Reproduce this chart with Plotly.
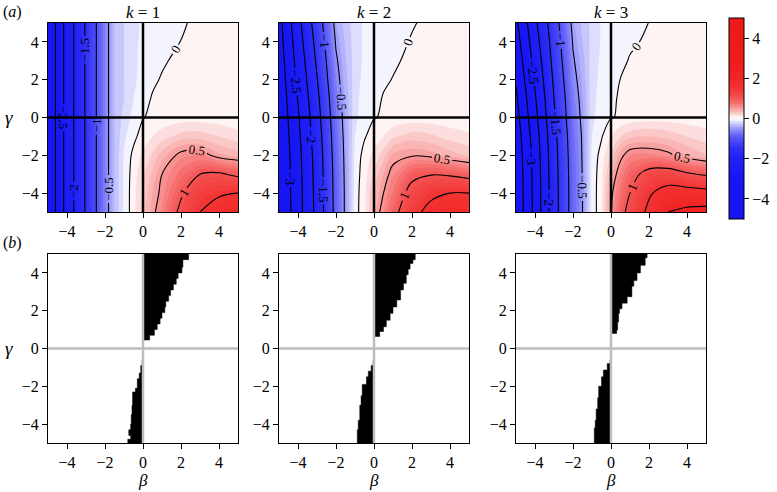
import plotly.graph_objects as go

# ---------------- data ----------------
beta_nodes = [-5, -4, -3, -2, -1.5, -1, -0.5, 0, 0.5, 1, 2, 3, 4, 5]
gamma_nodes = [-5, -4, -3, -2, -1, 0, 1, 2, 3, 4, 5]

# rows: gamma = -5 ... 5 ; columns: beta_nodes
z_k1 = [
    [-3.45, -2.30, -1.45, -0.62, -0.30, -0.08, 0.06, 0.25, 0.45, 0.62, 1.10, 1.50, 1.70, 1.75],
    [-3.45, -2.30, -1.45, -0.62, -0.30, -0.08, 0.06, 0.22, 0.40, 0.55, 0.95, 1.30, 1.45, 1.50],
    [-3.45, -2.30, -1.45, -0.62, -0.30, -0.08, 0.05, 0.18, 0.33, 0.50, 0.75, 1.00, 1.05, 0.92],
    [-3.45, -2.30, -1.45, -0.62, -0.30, -0.09, 0.03, 0.12, 0.22, 0.35, 0.56, 0.60, 0.42, 0.35],
    [-3.45, -2.30, -1.45, -0.62, -0.30, -0.12, -0.03, 0.05, 0.10, 0.15, 0.24, 0.25, 0.20, 0.14],
    [-3.45, -2.30, -1.45, -0.62, -0.30, -0.16, -0.07, -0.005, 0.02, 0.03, 0.05, 0.05, 0.04, 0.03],
    [-3.45, -2.30, -1.45, -0.62, -0.30, -0.20, -0.10, -0.04, 0.01, 0.03, 0.04, 0.04, 0.04, 0.04],
    [-3.45, -2.30, -1.45, -0.62, -0.30, -0.20, -0.12, -0.06, -0.02, 0.01, 0.04, 0.04, 0.04, 0.04],
    [-3.45, -2.30, -1.45, -0.62, -0.30, -0.20, -0.12, -0.07, -0.05, -0.015, 0.03, 0.04, 0.04, 0.04],
    [-3.45, -2.30, -1.45, -0.62, -0.30, -0.20, -0.12, -0.08, -0.06, -0.04, 0.002, 0.03, 0.04, 0.04],
    [-3.45, -2.30, -1.45, -0.62, -0.30, -0.20, -0.12, -0.09, -0.07, -0.05, -0.015, 0.03, 0.04, 0.04],
]

z_k2 = [
    [-3.50, -2.70, -1.85, -0.85, -0.45, -0.05, 0.08, 0.35, 0.60, 0.85, 1.35, 1.65, 1.75, 1.78],
    [-3.49, -2.69, -1.84, -0.84, -0.45, -0.05, 0.07, 0.30, 0.50, 0.72, 1.15, 1.40, 1.50, 1.50],
    [-3.48, -2.67, -1.82, -0.83, -0.44, -0.06, 0.06, 0.22, 0.40, 0.58, 0.90, 0.98, 0.95, 0.85],
    [-3.47, -2.65, -1.79, -0.80, -0.43, -0.07, 0.04, 0.13, 0.25, 0.42, 0.48, 0.45, 0.35, 0.28],
    [-3.44, -2.60, -1.74, -0.77, -0.41, -0.10, -0.01, 0.05, 0.10, 0.18, 0.25, 0.22, 0.16, 0.12],
    [-3.40, -2.55, -1.68, -0.72, -0.39, -0.12, -0.05, -0.005, 0.01, 0.02, 0.04, 0.04, 0.03, 0.03],
    [-3.36, -2.48, -1.61, -0.67, -0.37, -0.13, -0.06, -0.04, 0.01, 0.03, 0.04, 0.04, 0.04, 0.04],
    [-3.31, -2.40, -1.52, -0.60, -0.34, -0.14, -0.07, -0.06, -0.02, 0.005, 0.04, 0.04, 0.04, 0.04],
    [-3.26, -2.32, -1.43, -0.54, -0.31, -0.15, -0.08, -0.07, -0.05, -0.02, 0.03, 0.04, 0.04, 0.04],
    [-3.21, -2.23, -1.34, -0.47, -0.28, -0.15, -0.08, -0.08, -0.06, -0.04, 0.01, 0.03, 0.04, 0.04],
    [-3.16, -2.15, -1.25, -0.40, -0.25, -0.15, -0.08, -0.09, -0.07, -0.05, -0.01, 0.03, 0.04, 0.04],
]

z_k3 = [
    [-3.90, -2.85, -1.70, -0.80, -0.50, -0.06, 0.07, 0.48, 0.85, 1.15, 1.60, 2.00, 2.10, 2.15],
    [-3.89, -2.84, -1.70, -0.80, -0.50, -0.06, 0.07, 0.45, 0.75, 1.00, 1.45, 1.70, 1.70, 1.65],
    [-3.88, -2.83, -1.69, -0.79, -0.49, -0.06, 0.06, 0.35, 0.62, 0.85, 1.15, 1.20, 1.05, 0.95],
    [-3.84, -2.80, -1.67, -0.77, -0.48, -0.07, 0.04, 0.22, 0.45, 0.60, 0.62, 0.55, 0.40, 0.30],
    [-3.78, -2.74, -1.63, -0.74, -0.47, -0.10, -0.01, 0.10, 0.20, 0.27, 0.30, 0.26, 0.20, 0.15],
    [-3.68, -2.64, -1.56, -0.69, -0.44, -0.12, -0.05, -0.005, 0.01, 0.03, 0.05, 0.05, 0.04, 0.03],
    [-3.58, -2.55, -1.50, -0.65, -0.41, -0.13, -0.06, -0.03, 0.02, 0.03, 0.04, 0.04, 0.04, 0.04],
    [-3.46, -2.44, -1.43, -0.59, -0.37, -0.14, -0.07, -0.05, 0.003, 0.02, 0.04, 0.04, 0.04, 0.04],
    [-3.34, -2.33, -1.35, -0.53, -0.34, -0.15, -0.08, -0.07, -0.03, 0.01, 0.03, 0.04, 0.04, 0.04],
    [-3.22, -2.21, -1.28, -0.48, -0.30, -0.16, -0.09, -0.08, -0.06, -0.02, 0.02, 0.03, 0.04, 0.04],
    [-3.10, -2.10, -1.20, -0.42, -0.27, -0.17, -0.09, -0.09, -0.07, -0.05, 0.002, 0.03, 0.04, 0.04],
]

k_values = ["1", "2", "3"]
tick_vals = [-4, -2, 0, 2, 4]
colorbar_ticks = [-4, -2, 0, 2, 4]

# bottom row: boundaries of the black regions (gamma, beta of the edge)
k1_upper_gamma = [5.0, 4.7, 4.3, 4.0, 3.7, 3.4, 3.1, 2.8, 2.5, 2.2, 1.9, 1.6, 1.3, 1.0, 0.7, 0.45]
k1_upper_beta = [2.4, 2.1, 2.05, 1.85, 1.75, 1.6, 1.45, 1.35, 1.2, 1.15, 1.0, 0.9, 0.75, 0.6, 0.35, 0.05]
k1_lower_gamma = [-0.6, -0.9, -1.3, -1.6, -2.1, -2.3, -3.0, -3.5, -4.0, -4.3, -4.6, -4.8, -5.0]
k1_lower_beta = [-0.05, -0.12, -0.2, -0.3, -0.4, -0.55, -0.58, -0.62, -0.65, -0.75, -0.65, -0.8, -0.8]

k2_upper_gamma = [5.0, 4.7, 4.5, 4.2, 3.9, 3.45, 3.1, 2.57, 2.2, 1.86, 1.5, 1.15, 0.9, 0.63]
k2_upper_beta = [2.17, 2.05, 1.9, 1.8, 1.7, 1.55, 1.4, 1.2, 1.0, 0.85, 0.65, 0.5, 0.3, 0.12]
k2_lower_gamma = [-0.6, -0.9, -1.2, -1.5, -1.9, -2.5, -3.0, -3.8, -4.3, -5.0]
k2_lower_beta = [-0.05, -0.15, -0.3, -0.4, -0.62, -0.68, -0.75, -0.83, -0.88, -0.88]

k3_upper_gamma = [5.0, 4.8, 4.4, 4.0, 3.6, 3.3, 2.74, 2.4, 2.1, 1.86, 1.4, 0.98, 0.8]
k3_upper_beta = [1.9, 1.8, 1.55, 1.37, 1.2, 1.1, 0.85, 0.58, 0.45, 0.4, 0.35, 0.3, 0.12]
k3_lower_gamma = [-0.6, -0.8, -1.14, -1.5, -2.0, -2.6, -3.2, -3.8, -4.2, -5.0]
k3_lower_beta = [-0.05, -0.2, -0.4, -0.5, -0.65, -0.7, -0.78, -0.83, -0.88, -0.88]

z_panels = [z_k1, z_k2, z_k3]
black_regions = [
    (k1_upper_gamma, k1_upper_beta, k1_lower_gamma, k1_lower_beta),
    (k2_upper_gamma, k2_upper_beta, k2_lower_gamma, k2_lower_beta),
    (k3_upper_gamma, k3_upper_beta, k3_lower_gamma, k3_lower_beta),
]

# ---------------- style ----------------
W, H = 777, 492
SERIF = "Liberation Serif"
BLUE = (20, 20, 245)
RED = (240, 25, 25)
sat = [(0, 0), (0.25, 0.24), (0.5, 0.45), (0.75, 0.62), (1, 0.75),
       (1.5, 0.89), (2, 0.95), (3, 0.99), (5, 1.0)]


def mix(c, f):
    return "rgb(%d,%d,%d)" % tuple(round(255 + (ci - 255) * f) for ci in c)


colorscale = []
for a, f in reversed(sat):
    colorscale.append([(5 - a) / 10, mix(BLUE, f)])
for a, f in sat[1:]:
    colorscale.append([(5 + a) / 10, mix(RED, f)])

top_x = [(48, 238), (279, 469), (516, 706)]
top_y = (23, 212)
bot_y = (254, 443)


def px_x(a, b):
    return [a / W, b / W]


def px_y(a, b):
    return [1 - b / H, 1 - a / H]


fig = go.Figure()
layout = {}
shapes = []
annotations = []

axis_common = dict(
    range=[-5, 5], showline=True, linecolor="black", linewidth=1.2, mirror=True,
    ticks="outside", ticklen=5, tickwidth=1, tickcolor="black",
    tickvals=tick_vals, tickfont=dict(family=SERIF, size=16, color="black"),
    showgrid=False, zeroline=False, fixedrange=True,
)

for i in range(3):
    # top row
    ax = i + 1
    xn = "x" if ax == 1 else "x%d" % ax
    yn = "y" if ax == 1 else "y%d" % ax
    layout["xaxis" if ax == 1 else "xaxis%d" % ax] = dict(
        axis_common, domain=px_x(*top_x[i]), anchor=yn)
    layout["yaxis" if ax == 1 else "yaxis%d" % ax] = dict(
        axis_common, domain=px_y(*top_y), anchor=xn)

    fig.add_trace(go.Contour(
        x=beta_nodes, y=gamma_nodes, z=z_panels[i],
        colorscale=colorscale, zmin=-5, zmax=5, autocontour=False,
        contours=dict(start=-5, end=5, size=0.1, coloring="fill", showlines=False),
        line=dict(width=0), showscale=(i == 0), hoverinfo="skip",
        xaxis=xn, yaxis=yn,
        colorbar=dict(
            x=729 / W, xanchor="left", xpad=0, thickness=15,
            len=201 / H, lenmode="fraction", y=1 - 118.5 / H, yanchor="middle", ypad=0,
            outlinecolor="black", outlinewidth=1,
            tickvals=colorbar_ticks, ticks="outside", ticklen=5, tickcolor="black",
            tickfont=dict(family=SERIF, size=16, color="black"),
        ),
    ))
    fig.add_trace(go.Contour(
        x=beta_nodes, y=gamma_nodes, z=z_panels[i], autocontour=False,
        contours=dict(start=-4, end=2.5, size=0.5, coloring="none", showlabels=True,
                      labelfont=dict(family=SERIF, size=13, color="black"),
                      labelformat="~g"),
        line=dict(color="black", width=1.1), showscale=False, hoverinfo="skip",
        xaxis=xn, yaxis=yn,
    ))
    shapes.append(dict(type="line", xref=xn, yref=yn, x0=0, x1=0, y0=-5, y1=5,
                       line=dict(color="black", width=2.5), layer="above"))
    shapes.append(dict(type="line", xref=xn, yref=yn, x0=-5, x1=5, y0=0, y1=0,
                       line=dict(color="black", width=2.5), layer="above"))
    annotations.append(dict(
        text="<i>k</i> = " + k_values[i], x=sum(top_x[i]) / 2 / W, y=1 - 12 / H,
        xref="paper", yref="paper", showarrow=False, xanchor="center", yanchor="middle",
        font=dict(family=SERIF, size=17, color="black")))

    # bottom row
    bx = i + 4
    xn2, yn2 = "x%d" % bx, "y%d" % bx
    layout["xaxis%d" % bx] = dict(axis_common, domain=px_x(*top_x[i]), anchor=yn2)
    layout["yaxis%d" % bx] = dict(axis_common, domain=px_y(*bot_y), anchor=xn2)
    ug, ub, lg, lb = black_regions[i]
    fig.add_trace(go.Scatter(
        x=[0] + ub + [0], y=[5] + ug + [ug[-1]], mode="lines", fill="toself",
        fillcolor="black", line=dict(color="black", width=0.5, shape="vh"),
        hoverinfo="skip", showlegend=False, xaxis=xn2, yaxis=yn2))
    fig.add_trace(go.Scatter(
        x=[0] + lb + [0], y=[lg[0]] + lg + [-5], mode="lines", fill="toself",
        fillcolor="black", line=dict(color="black", width=0.5, shape="vh"),
        hoverinfo="skip", showlegend=False, xaxis=xn2, yaxis=yn2))
    shapes.append(dict(type="line", xref=xn2, yref=yn2, x0=0, x1=0, y0=-5, y1=5,
                       line=dict(color="#bdbdbd", width=2.5), layer="above"))
    shapes.append(dict(type="line", xref=xn2, yref=yn2, x0=-5, x1=5, y0=0, y1=0,
                       line=dict(color="#bdbdbd", width=2.5), layer="above"))
    annotations.append(dict(
        text="<i>β</i>", x=sum(top_x[i]) / 2 / W, y=1 - 480 / H,
        xref="paper", yref="paper", showarrow=False, xanchor="center", yanchor="middle",
        font=dict(family=SERIF, size=17, color="black")))

for txt, ypx in [("(<i>a</i>)", 12), ("(<i>b</i>)", 243)]:
    annotations.append(dict(
        text=txt, x=1 / W, y=1 - ypx / H, xref="paper", yref="paper", showarrow=False,
        xanchor="left", yanchor="middle", font=dict(family=SERIF, size=16, color="black")))
for ypx in [117, 348]:
    annotations.append(dict(
        text="<i>γ</i>", x=9 / W, y=1 - ypx / H, xref="paper", yref="paper",
        showarrow=False, xanchor="center", yanchor="middle",
        font=dict(family=SERIF, size=19, color="black")))

fig.update_layout(
    width=W, height=H, margin=dict(l=0, r=0, t=0, b=0),
    paper_bgcolor="white", plot_bgcolor="white", showlegend=False,
    shapes=shapes, annotations=annotations, **layout,
)

fig.write_html(
    "out.html", config={"displayModeBar": False},
    post_script="document.body.style.margin='0px';document.body.style.padding='0px';",
)
